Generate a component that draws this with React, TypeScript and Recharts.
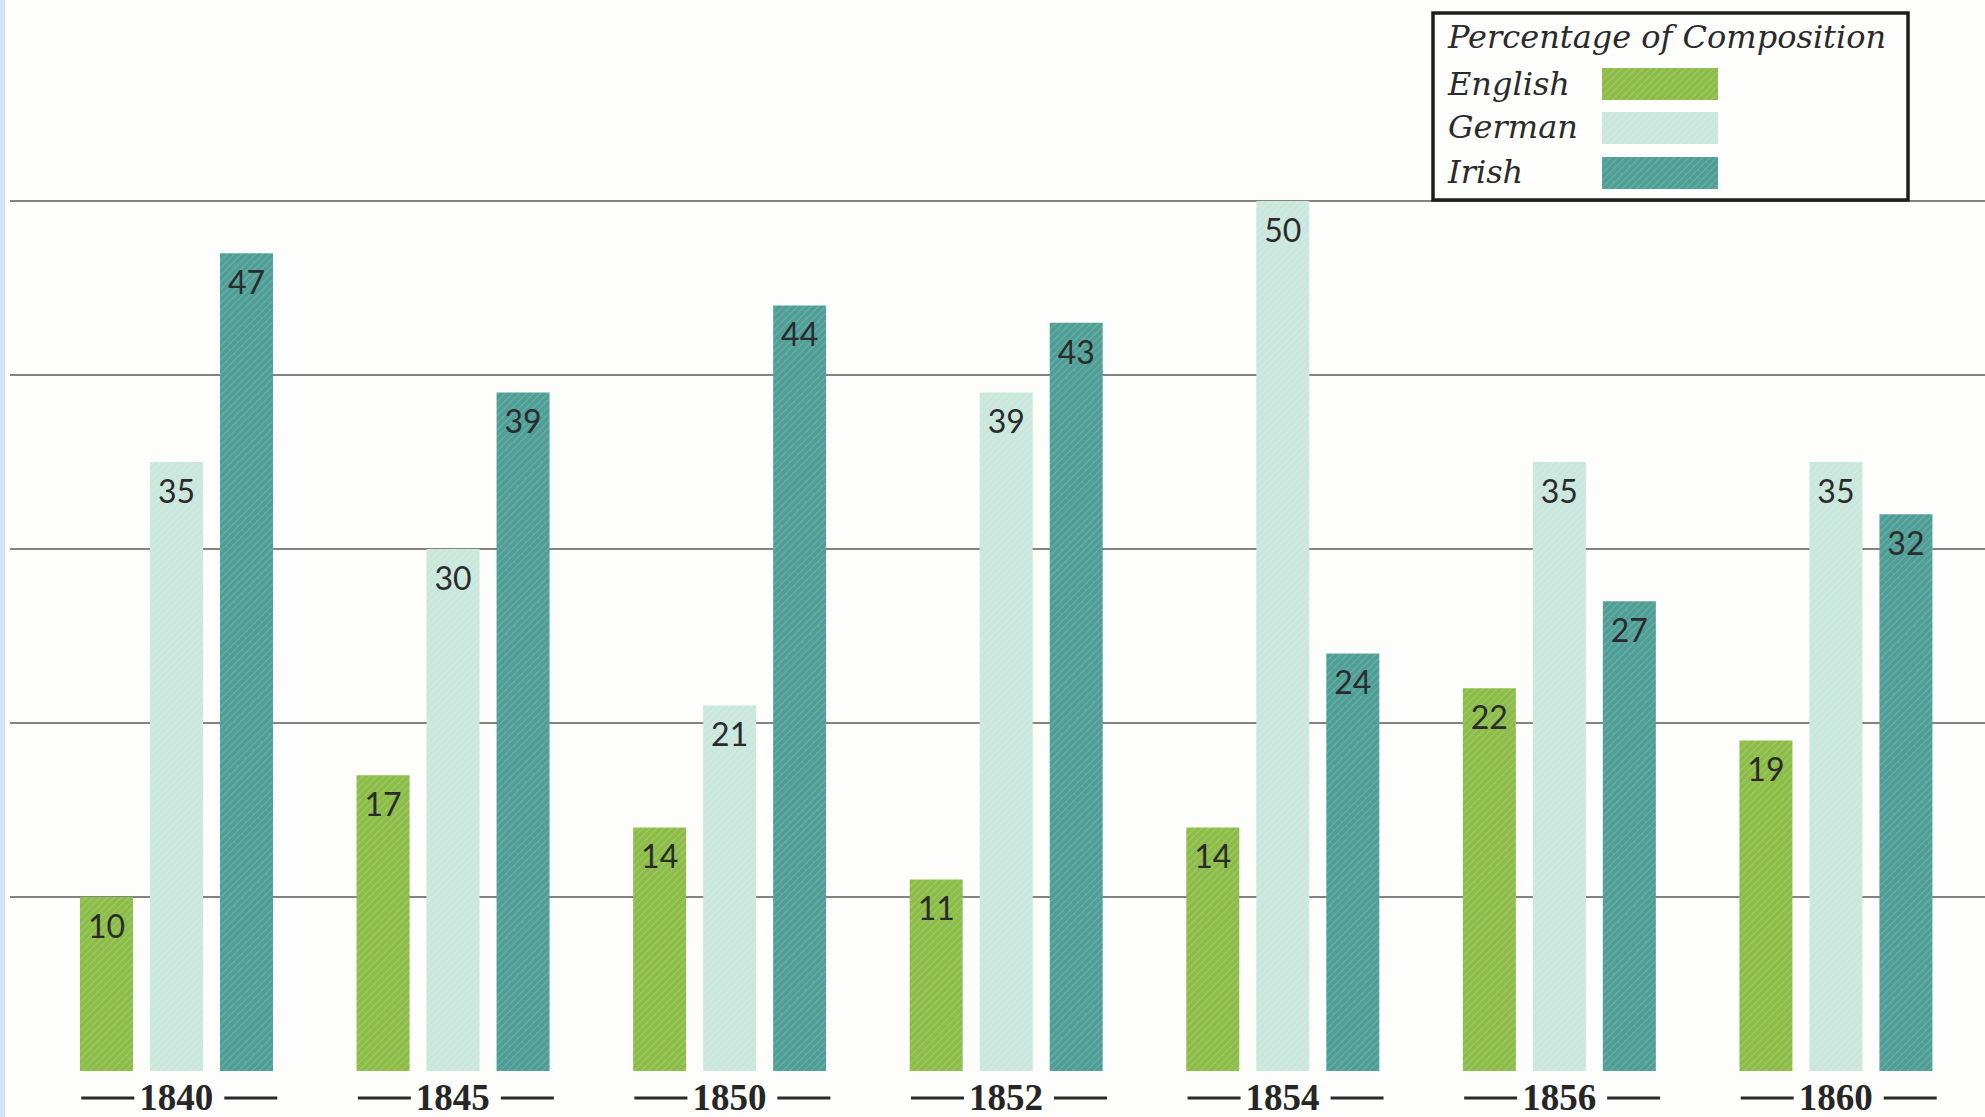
import { Bar, BarChart, CartesianGrid, LabelList, XAxis, YAxis } from "recharts";

const YEARS = ["1840", "1845", "1850", "1852", "1854", "1856", "1860"];
const ENGLISH = [10, 17, 14, 11, 14, 22, 19];
const GERMAN = [35, 30, 21, 39, 50, 35, 35];
const IRISH = [47, 39, 44, 43, 24, 27, 32];
const Y_TICKS = [10, 20, 30, 40, 50];

const SERIES = [
  { key: "english", name: "English", color: "#8cbd48" },
  { key: "german", name: "German", color: "#c9e7dd" },
  { key: "irish", name: "Irish", color: "#4f9f96" },
];

const LEGEND_TITLE = "Percentage of Composition";

const data = YEARS.map((year, i) => ({
  year,
  english: ENGLISH[i],
  german: GERMAN[i],
  irish: IRISH[i],
}));

// year label with the long dashes either side, like the printed original
function YearTick({ x, y, payload }: any) {
  const dashY = y + 27;
  return (
    <g>
      <line x1={x - 95} x2={x - 42} y1={dashY} y2={dashY} stroke="#2a2a2a" strokeWidth={3} />
      <text
        x={x}
        y={y + 39}
        textAnchor="middle"
        fill="#262626"
        fontFamily="'Liberation Serif', serif"
        fontWeight={700}
        fontSize={37}
      >
        {payload.value}
      </text>
      <line x1={x + 48} x2={x + 101} y1={dashY} y2={dashY} stroke="#2a2a2a" strokeWidth={3} />
    </g>
  );
}

function LegendBox() {
  const font = {
    fontFamily: "'DejaVu Serif', serif",
    fontStyle: "italic",
    fontSize: 32,
    fill: "#2a2a2a",
  };
  return (
    <svg width={1985} height={230} style={{ position: "absolute", left: 0, top: 0 }}>
      <rect x={1433} y={13} width={475} height={187} fill="#fefefc" stroke="#1e1e1e" strokeWidth={3.5} />
      <text x={1448} y={48} {...font}>
        {LEGEND_TITLE}
      </text>
      {SERIES.map((s, i) => (
        <g key={s.key}>
          <text x={1448} y={[95, 138, 183][i]} {...font}>
            {s.name}
          </text>
          <rect x={1602} y={[68, 112, 157][i]} width={116} height={32} fill={`url(#lg-${s.key})`} />
        </g>
      ))}
      <defs>
        {SERIES.map((s) => (
          <pattern
            key={s.key}
            id={`lg-${s.key}`}
            patternUnits="userSpaceOnUse"
            width={5}
            height={5}
            patternTransform="rotate(45)"
          >
            <rect width={5} height={5} fill={s.color} />
            <line x1={0} y1={0} x2={0} y2={5} stroke="#ffffff" strokeOpacity={0.18} strokeWidth={2} />
          </pattern>
        ))}
      </defs>
    </svg>
  );
}

export default function App() {
  return (
    <div
      style={{
        position: "absolute",
        left: 0,
        top: 0,
        width: 1985,
        height: 1117,
        background: "#fdfdfb",
        overflow: "hidden",
      }}
    >
      <div style={{ position: "absolute", left: 0, top: 0, width: 5, height: 1117, background: "#cfe2f6" }} />
      <BarChart
        width={1985}
        height={1117}
        data={data}
        margin={{ top: 201, right: 0, bottom: 0, left: 10 }}
        barSize={53}
        barGap={17}
      >
        <defs>
          {SERIES.map((s) => (
            <pattern
              key={s.key}
              id={`hatch-${s.key}`}
              patternUnits="userSpaceOnUse"
              width={5}
              height={5}
              patternTransform="rotate(45)"
            >
              <rect width={5} height={5} fill={s.color} />
              <line x1={0} y1={0} x2={0} y2={5} stroke="#ffffff" strokeOpacity={0.18} strokeWidth={2} />
            </pattern>
          ))}
        </defs>
        <CartesianGrid vertical={false} horizontalValues={Y_TICKS} stroke="#5a5a5a" strokeWidth={1.3} />
        <XAxis
          dataKey="year"
          padding={{ left: 28, right: 11 }}
          axisLine={false}
          tickLine={false}
          tickSize={0}
          tickMargin={0}
          height={46}
          interval={0}
          tick={<YearTick />}
        />
        <YAxis hide domain={[0, 50]} ticks={Y_TICKS} />
        {SERIES.map((s) => (
          <Bar key={s.key} dataKey={s.key} name={s.name} fill={`url(#hatch-${s.key})`} isAnimationActive={false}>
            <LabelList
              dataKey={s.key}
              position="insideTop"
              offset={18}
              fill="#2b2b2b"
              fontSize={32}
              fontFamily="Lato, 'Open Sans', sans-serif"
            />
          </Bar>
        ))}
      </BarChart>
      <LegendBox />
    </div>
  );
}
